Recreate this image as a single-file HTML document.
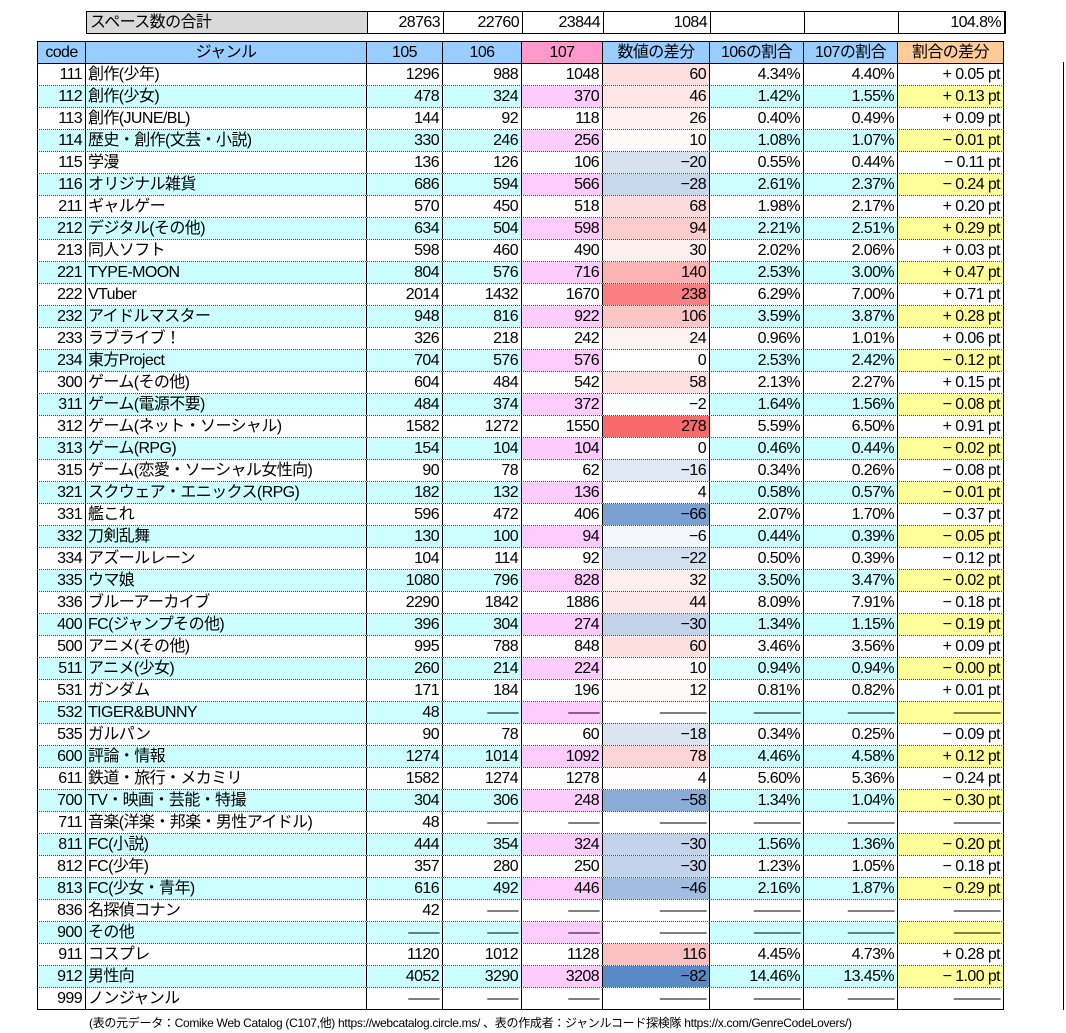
<!DOCTYPE html>
<html><head><meta charset="utf-8">
<style>
*{box-sizing:border-box;margin:0;padding:0}
body{width:1066px;height:1033px;background:#fff;position:relative;overflow:hidden;font-family:"Liberation Sans","Noto Sans CJK JP",sans-serif;color:#000}
.r{position:absolute;left:37px;display:flex;height:22px;font-size:16px;line-height:21px;border-bottom:1px dotted #444}
.r>div{height:100%;border-right:1px solid #000;text-align:right;padding-right:3px;letter-spacing:-0.6px;white-space:nowrap;overflow:hidden}
.r>div:first-child{border-left:1px solid #000}
.c0{width:49px}.c1{width:281px;text-align:left!important;padding-left:2px}.c2{width:76px}.c3{width:79px}.c4{width:81px}.c5{width:107px}.c6{width:94px}.c7{width:94px}.c8{width:106px}
.cy{background:#CCFFFF}
.cy .c4{background:#FFCCFF}
.cy .c8{background:#FFFF99}
.hd{border-top:1px solid #000;border-bottom:1px solid #000!important;height:23px}
.hd>div{text-align:center!important;padding:0!important}
.last{border-bottom:1px solid #000!important}
</style></head><body>
<div class="r" style="top:11px;left:86px;border:1px solid #000;height:23px">
<div class="c1" style="background:#D9D9D9;border-left:none;padding-left:3px">スペース数の合計</div><div class="c2">28763</div><div class="c3">22760</div><div class="c4">23844</div><div class="c5">1084</div><div class="c6"></div><div class="c7"></div><div class="c8">104.8%</div>
</div>
<div class="r hd" style="top:41px;background:#99CCFF">
<div class="c0">code</div><div class="c1" style="text-align:center!important">ジャンル</div><div class="c2">105</div><div class="c3">106</div><div class="c4" style="background:#FF99CC">107</div><div class="c5">数値の差分</div><div class="c6">106の割合</div><div class="c7">107の割合</div><div class="c8" style="background:#FFCC99">割合の差分</div>
</div>
<div class="r" style="top:64px"><div class="c0">111</div><div class="c1">創作(少年)</div><div class="c2">1296</div><div class="c3">988</div><div class="c4">1048</div><div class="c5" style="background:rgb(253,223,223)">60</div><div class="c6">4.34%</div><div class="c7">4.40%</div><div class="c8">+ 0.05 pt</div></div>
<div class="r cy" style="top:86px"><div class="c0">112</div><div class="c1">創作(少女)</div><div class="c2">478</div><div class="c3">324</div><div class="c4">370</div><div class="c5" style="background:rgb(254,230,231)">46</div><div class="c6">1.42%</div><div class="c7">1.55%</div><div class="c8">+ 0.13 pt</div></div>
<div class="r" style="top:108px"><div class="c0">113</div><div class="c1">創作(JUNE/BL)</div><div class="c2">144</div><div class="c3">92</div><div class="c4">118</div><div class="c5" style="background:rgb(254,241,241)">26</div><div class="c6">0.40%</div><div class="c7">0.49%</div><div class="c8">+ 0.09 pt</div></div>
<div class="r cy" style="top:130px"><div class="c0">114</div><div class="c1">歴史・創作(文芸・小説)</div><div class="c2">330</div><div class="c3">246</div><div class="c4">256</div><div class="c5" style="background:rgb(255,250,250)">10</div><div class="c6">1.08%</div><div class="c7">1.07%</div><div class="c8">− 0.01 pt</div></div>
<div class="r" style="top:152px"><div class="c0">115</div><div class="c1">学漫</div><div class="c2">136</div><div class="c3">126</div><div class="c4">106</div><div class="c5" style="background:rgb(215,226,241)">−20</div><div class="c6">0.55%</div><div class="c7">0.44%</div><div class="c8">− 0.11 pt</div></div>
<div class="r cy" style="top:174px"><div class="c0">116</div><div class="c1">オリジナル雑貨</div><div class="c2">686</div><div class="c3">594</div><div class="c4">566</div><div class="c5" style="background:rgb(199,215,236)">−28</div><div class="c6">2.61%</div><div class="c7">2.37%</div><div class="c8">− 0.24 pt</div></div>
<div class="r" style="top:196px"><div class="c0">211</div><div class="c1">ギャルゲー</div><div class="c2">570</div><div class="c3">450</div><div class="c4">518</div><div class="c5" style="background:rgb(253,218,219)">68</div><div class="c6">1.98%</div><div class="c7">2.17%</div><div class="c8">+ 0.20 pt</div></div>
<div class="r cy" style="top:218px"><div class="c0">212</div><div class="c1">デジタル(その他)</div><div class="c2">634</div><div class="c3">504</div><div class="c4">598</div><div class="c5" style="background:rgb(253,204,205)">94</div><div class="c6">2.21%</div><div class="c7">2.51%</div><div class="c8">+ 0.29 pt</div></div>
<div class="r" style="top:240px"><div class="c0">213</div><div class="c1">同人ソフト</div><div class="c2">598</div><div class="c3">460</div><div class="c4">490</div><div class="c5" style="background:rgb(254,239,239)">30</div><div class="c6">2.02%</div><div class="c7">2.06%</div><div class="c8">+ 0.03 pt</div></div>
<div class="r cy" style="top:262px"><div class="c0">221</div><div class="c1">TYPE-MOON</div><div class="c2">804</div><div class="c3">576</div><div class="c4">716</div><div class="c5" style="background:rgb(251,179,180)">140</div><div class="c6">2.53%</div><div class="c7">3.00%</div><div class="c8">+ 0.47 pt</div></div>
<div class="r" style="top:284px"><div class="c0">222</div><div class="c1">VTuber</div><div class="c2">2014</div><div class="c3">1432</div><div class="c4">1670</div><div class="c5" style="background:rgb(249,127,128)">238</div><div class="c6">6.29%</div><div class="c7">7.00%</div><div class="c8">+ 0.71 pt</div></div>
<div class="r cy" style="top:306px"><div class="c0">232</div><div class="c1">アイドルマスター</div><div class="c2">948</div><div class="c3">816</div><div class="c4">922</div><div class="c5" style="background:rgb(252,198,199)">106</div><div class="c6">3.59%</div><div class="c7">3.87%</div><div class="c8">+ 0.28 pt</div></div>
<div class="r" style="top:328px"><div class="c0">233</div><div class="c1">ラブライブ！</div><div class="c2">326</div><div class="c3">218</div><div class="c4">242</div><div class="c5" style="background:rgb(254,242,242)">24</div><div class="c6">0.96%</div><div class="c7">1.01%</div><div class="c8">+ 0.06 pt</div></div>
<div class="r cy" style="top:350px"><div class="c0">234</div><div class="c1">東方Project</div><div class="c2">704</div><div class="c3">576</div><div class="c4">576</div><div class="c5" style="background:#fff">0</div><div class="c6">2.53%</div><div class="c7">2.42%</div><div class="c8">− 0.12 pt</div></div>
<div class="r" style="top:372px"><div class="c0">300</div><div class="c1">ゲーム(その他)</div><div class="c2">604</div><div class="c3">484</div><div class="c4">542</div><div class="c5" style="background:rgb(254,224,224)">58</div><div class="c6">2.13%</div><div class="c7">2.27%</div><div class="c8">+ 0.15 pt</div></div>
<div class="r cy" style="top:394px"><div class="c0">311</div><div class="c1">ゲーム(電源不要)</div><div class="c2">484</div><div class="c3">374</div><div class="c4">372</div><div class="c5" style="background:rgb(251,252,254)">−2</div><div class="c6">1.64%</div><div class="c7">1.56%</div><div class="c8">− 0.08 pt</div></div>
<div class="r" style="top:416px"><div class="c0">312</div><div class="c1">ゲーム(ネット・ソーシャル)</div><div class="c2">1582</div><div class="c3">1272</div><div class="c4">1550</div><div class="c5" style="background:rgb(248,105,107)">278</div><div class="c6">5.59%</div><div class="c7">6.50%</div><div class="c8">+ 0.91 pt</div></div>
<div class="r cy" style="top:438px"><div class="c0">313</div><div class="c1">ゲーム(RPG)</div><div class="c2">154</div><div class="c3">104</div><div class="c4">104</div><div class="c5" style="background:#fff">0</div><div class="c6">0.46%</div><div class="c7">0.44%</div><div class="c8">− 0.02 pt</div></div>
<div class="r" style="top:460px"><div class="c0">315</div><div class="c1">ゲーム(恋愛・ソーシャル女性向)</div><div class="c2">90</div><div class="c3">78</div><div class="c4">62</div><div class="c5" style="background:rgb(223,232,244)">−16</div><div class="c6">0.34%</div><div class="c7">0.26%</div><div class="c8">− 0.08 pt</div></div>
<div class="r cy" style="top:482px"><div class="c0">321</div><div class="c1">スクウェア・エニックス(RPG)</div><div class="c2">182</div><div class="c3">132</div><div class="c4">136</div><div class="c5" style="background:rgb(255,253,253)">4</div><div class="c6">0.58%</div><div class="c7">0.57%</div><div class="c8">− 0.01 pt</div></div>
<div class="r" style="top:504px"><div class="c0">331</div><div class="c1">艦これ</div><div class="c2">596</div><div class="c3">472</div><div class="c4">406</div><div class="c5" style="background:rgb(122,161,209)">−66</div><div class="c6">2.07%</div><div class="c7">1.70%</div><div class="c8">− 0.37 pt</div></div>
<div class="r cy" style="top:526px"><div class="c0">332</div><div class="c1">刀剣乱舞</div><div class="c2">130</div><div class="c3">100</div><div class="c4">94</div><div class="c5" style="background:rgb(243,246,251)">−6</div><div class="c6">0.44%</div><div class="c7">0.39%</div><div class="c8">− 0.05 pt</div></div>
<div class="r" style="top:548px"><div class="c0">334</div><div class="c1">アズールレーン</div><div class="c2">104</div><div class="c3">114</div><div class="c4">92</div><div class="c5" style="background:rgb(211,224,240)">−22</div><div class="c6">0.50%</div><div class="c7">0.39%</div><div class="c8">− 0.12 pt</div></div>
<div class="r cy" style="top:570px"><div class="c0">335</div><div class="c1">ウマ娘</div><div class="c2">1080</div><div class="c3">796</div><div class="c4">828</div><div class="c5" style="background:rgb(254,238,238)">32</div><div class="c6">3.50%</div><div class="c7">3.47%</div><div class="c8">− 0.02 pt</div></div>
<div class="r" style="top:592px"><div class="c0">336</div><div class="c1">ブルーアーカイブ</div><div class="c2">2290</div><div class="c3">1842</div><div class="c4">1886</div><div class="c5" style="background:rgb(254,231,232)">44</div><div class="c6">8.09%</div><div class="c7">7.91%</div><div class="c8">− 0.18 pt</div></div>
<div class="r cy" style="top:614px"><div class="c0">400</div><div class="c1">FC(ジャンプその他)</div><div class="c2">396</div><div class="c3">304</div><div class="c4">274</div><div class="c5" style="background:rgb(195,212,234)">−30</div><div class="c6">1.34%</div><div class="c7">1.15%</div><div class="c8">− 0.19 pt</div></div>
<div class="r" style="top:636px"><div class="c0">500</div><div class="c1">アニメ(その他)</div><div class="c2">995</div><div class="c3">788</div><div class="c4">848</div><div class="c5" style="background:rgb(253,223,223)">60</div><div class="c6">3.46%</div><div class="c7">3.56%</div><div class="c8">+ 0.09 pt</div></div>
<div class="r cy" style="top:658px"><div class="c0">511</div><div class="c1">アニメ(少女)</div><div class="c2">260</div><div class="c3">214</div><div class="c4">224</div><div class="c5" style="background:rgb(255,250,250)">10</div><div class="c6">0.94%</div><div class="c7">0.94%</div><div class="c8">− 0.00 pt</div></div>
<div class="r" style="top:680px"><div class="c0">531</div><div class="c1">ガンダム</div><div class="c2">171</div><div class="c3">184</div><div class="c4">196</div><div class="c5" style="background:rgb(255,249,249)">12</div><div class="c6">0.81%</div><div class="c7">0.82%</div><div class="c8">+ 0.01 pt</div></div>
<div class="r cy" style="top:702px"><div class="c0">532</div><div class="c1">TIGER&amp;BUNNY</div><div class="c2">48</div><div class="c3">――</div><div class="c4">――</div><div class="c5" style="background:#fff">―――</div><div class="c6">―――</div><div class="c7">―――</div><div class="c8">―――</div></div>
<div class="r" style="top:724px"><div class="c0">535</div><div class="c1">ガルパン</div><div class="c2">90</div><div class="c3">78</div><div class="c4">60</div><div class="c5" style="background:rgb(219,229,242)">−18</div><div class="c6">0.34%</div><div class="c7">0.25%</div><div class="c8">− 0.09 pt</div></div>
<div class="r cy" style="top:746px"><div class="c0">600</div><div class="c1">評論・情報</div><div class="c2">1274</div><div class="c3">1014</div><div class="c4">1092</div><div class="c5" style="background:rgb(253,213,213)">78</div><div class="c6">4.46%</div><div class="c7">4.58%</div><div class="c8">+ 0.12 pt</div></div>
<div class="r" style="top:768px"><div class="c0">611</div><div class="c1">鉄道・旅行・メカミリ</div><div class="c2">1582</div><div class="c3">1274</div><div class="c4">1278</div><div class="c5" style="background:rgb(255,253,253)">4</div><div class="c6">5.60%</div><div class="c7">5.36%</div><div class="c8">− 0.24 pt</div></div>
<div class="r cy" style="top:790px"><div class="c0">700</div><div class="c1">TV・映画・芸能・特撮</div><div class="c2">304</div><div class="c3">306</div><div class="c4">248</div><div class="c5" style="background:rgb(138,172,215)">−58</div><div class="c6">1.34%</div><div class="c7">1.04%</div><div class="c8">− 0.30 pt</div></div>
<div class="r" style="top:812px"><div class="c0">711</div><div class="c1">音楽(洋楽・邦楽・男性アイドル)</div><div class="c2">48</div><div class="c3">――</div><div class="c4">――</div><div class="c5">―――</div><div class="c6">―――</div><div class="c7">―――</div><div class="c8">―――</div></div>
<div class="r cy" style="top:834px"><div class="c0">811</div><div class="c1">FC(小説)</div><div class="c2">444</div><div class="c3">354</div><div class="c4">324</div><div class="c5" style="background:rgb(195,212,234)">−30</div><div class="c6">1.56%</div><div class="c7">1.36%</div><div class="c8">− 0.20 pt</div></div>
<div class="r" style="top:856px"><div class="c0">812</div><div class="c1">FC(少年)</div><div class="c2">357</div><div class="c3">280</div><div class="c4">250</div><div class="c5" style="background:rgb(195,212,234)">−30</div><div class="c6">1.23%</div><div class="c7">1.05%</div><div class="c8">− 0.18 pt</div></div>
<div class="r cy" style="top:878px"><div class="c0">813</div><div class="c1">FC(少女・青年)</div><div class="c2">616</div><div class="c3">492</div><div class="c4">446</div><div class="c5" style="background:rgb(162,189,223)">−46</div><div class="c6">2.16%</div><div class="c7">1.87%</div><div class="c8">− 0.29 pt</div></div>
<div class="r" style="top:900px"><div class="c0">836</div><div class="c1">名探偵コナン</div><div class="c2">42</div><div class="c3">――</div><div class="c4">――</div><div class="c5">―――</div><div class="c6">―――</div><div class="c7">―――</div><div class="c8">―――</div></div>
<div class="r cy" style="top:922px"><div class="c0">900</div><div class="c1">その他</div><div class="c2">――</div><div class="c3">――</div><div class="c4">――</div><div class="c5" style="background:#fff">―――</div><div class="c6">―――</div><div class="c7">―――</div><div class="c8">―――</div></div>
<div class="r" style="top:944px"><div class="c0">911</div><div class="c1">コスプレ</div><div class="c2">1120</div><div class="c3">1012</div><div class="c4">1128</div><div class="c5" style="background:rgb(252,192,193)">116</div><div class="c6">4.45%</div><div class="c7">4.73%</div><div class="c8">+ 0.28 pt</div></div>
<div class="r cy" style="top:966px"><div class="c0">912</div><div class="c1">男性向</div><div class="c2">4052</div><div class="c3">3290</div><div class="c4">3208</div><div class="c5" style="background:rgb(90,138,198)">−82</div><div class="c6">14.46%</div><div class="c7">13.45%</div><div class="c8">− 1.00 pt</div></div>
<div class="r last" style="top:988px"><div class="c0">999</div><div class="c1">ノンジャンル</div><div class="c2">――</div><div class="c3">――</div><div class="c4">――</div><div class="c5">―――</div><div class="c6">―――</div><div class="c7">―――</div><div class="c8">―――</div></div>
<div style="position:absolute;left:1063px;top:62px;width:1px;height:948px;background:#000"></div>
<div style="position:absolute;left:89px;top:1014px;font-size:12px;letter-spacing:-0.3px;white-space:nowrap">(表の元データ：Comike Web Catalog (C107,他) https://webcatalog.circle.ms/ 、表の作成者：ジャンルコード探検隊 https://x.com/GenreCodeLovers/)</div>
</body></html>
